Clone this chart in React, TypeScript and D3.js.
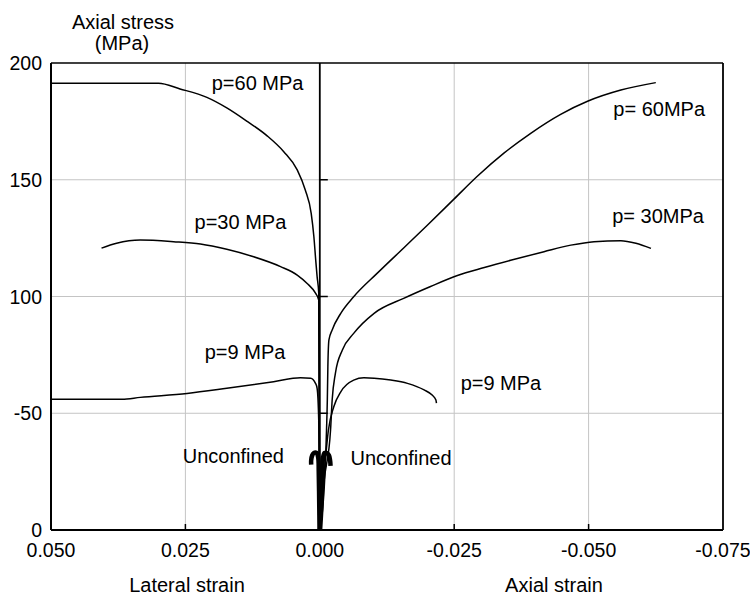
import React from "react";
import * as d3 from "d3";

// ---- data (strain, stress MPa) ----
const xTicks = [0.05, 0.025, 0, -0.025, -0.05, -0.075];
const xTickLabels = ["0.050", "0.025", "0.000", "-0.025", "-0.050", "-0.075"];
const yTicks = [0, 50, 100, 150, 200];
const yTickLabels = ["0", "-50", "100", "150", "200"];

const lateral60: [number, number][] = [
  [0.05, 191.3], [0.03, 191.3], [0.026, 188.9], [0.021, 185.3], [0.0173, 180.8],
  [0.0135, 175.0], [0.0098, 168.8], [0.0067, 162.0], [0.0042, 154.2], [0.0027, 145.6],
  [0.0016, 135.6], [0.0011, 125.6], [0.00076, 115.6], [0.0005, 108.5], [0.0002, 101.4],
  [0.00015, 70], [0.0001, 40], [0.00005, 15], [0, 0],
];
const lateral30: [number, number][] = [
  [0.0406, 120.7], [0.0378, 122.8], [0.0334, 124.2], [0.0272, 123.5], [0.0222, 122.5],
  [0.0173, 120.2], [0.0123, 117.0], [0.0073, 112.8], [0.0042, 109.2], [0.0024, 105.7],
  [0.0008, 101.4], [0.0002, 98.5], [0.0001, 60], [0.00005, 30], [0, 0],
];
const lateral9: [number, number][] = [
  [0.05, 56.0], [0.0368, 56.0], [0.0334, 56.8], [0.0247, 58.5], [0.0173, 60.7],
  [0.0086, 63.5], [0.0036, 65.2], [0.0017, 65.0], [0.0008, 62.8], [0.0005, 60.7],
  [0.0002, 47], [0.0001, 21], [0, 0],
];
const axial60: [number, number][] = [
  [0, 0], [-0.0009, 21.4], [-0.00125, 42.8], [-0.0014, 55.7], [-0.0015, 69.9],
  [-0.0017, 81.4], [-0.0023, 85.7], [-0.0039, 92.8], [-0.0063, 99.9], [-0.0107, 110.0],
  [-0.0156, 120.8], [-0.02, 130.5], [-0.025, 141.8], [-0.0293, 151.5], [-0.0343, 161.5],
  [-0.0393, 170.0], [-0.0448, 178.0], [-0.0498, 183.6], [-0.056, 188.4], [-0.0625, 191.6],
];
const axial30: [number, number][] = [
  [0, 0], [-0.0008, 21], [-0.002, 42.8], [-0.0023, 55.7], [-0.0029, 67.1],
  [-0.0042, 77.1], [-0.0063, 84.2], [-0.0101, 92.8], [-0.0156, 99.2], [-0.0206, 104.3],
  [-0.0256, 109.0], [-0.0306, 112.4], [-0.0355, 115.5], [-0.0417, 119.2], [-0.0467, 122.0],
  [-0.051, 123.5], [-0.056, 123.9], [-0.0588, 122.8], [-0.0616, 120.6],
];
const axial9: [number, number][] = [
  [0, 0], [-0.0007, 21], [-0.0016, 42.8], [-0.0026, 52.8], [-0.0039, 59.2],
  [-0.0063, 64.2], [-0.0082, 65.2], [-0.0101, 65.0], [-0.0132, 64.2], [-0.0163, 62.8],
  [-0.0194, 60.0], [-0.0209, 57.8], [-0.0216, 55.7], [-0.0217, 54.3],
];
const unconfinedLateral: [number, number][] = [
  [0.00005, 0], [0.0001, 10], [0.0002, 25], [0.0003, 31], [0.0006, 33], [0.0011, 33],
  [0.0014, 32], [0.0016, 30], [0.0016, 28],
];
const unconfinedAxial: [number, number][] = [
  [-0.00005, 0], [-0.0003, 10], [-0.0005, 25], [-0.0006, 31], [-0.0009, 33], [-0.0013, 33],
  [-0.0017, 32], [-0.0019, 30], [-0.002, 27.5],
];

const curves = [lateral60, lateral30, lateral9, axial60, axial30, axial9];

const labels: { text: string; x: number; y: number }[] = [
  { text: "p=60 MPa", x: 0.0201, y: 188.5 },
  { text: "p=30 MPa", x: 0.0233, y: 129.1 },
  { text: "p=9 MPa", x: 0.0214, y: 73.3 },
  { text: "p= 60MPa", x: -0.0546, y: 177.1 },
  { text: "p= 30MPa", x: -0.0544, y: 131.3 },
  { text: "p=9 MPa", x: -0.0262, y: 60.0 },
  { text: "Unconfined", x: 0.0255, y: 28.7 },
  { text: "Unconfined", x: -0.0057, y: 27.8 },
];

const W = 750;
const H = 603;
const left = 51, right = 723, top = 63, bottom = 530;

export default function App() {
  const x = d3.scaleLinear().domain([0.05, -0.075]).range([left, right]);
  const y = d3.scaleLinear().domain([0, 200]).range([bottom, top]);
  const line = d3
    .line<[number, number]>()
    .x((d) => x(d[0]))
    .y((d) => y(d[1]))
    .curve(d3.curveMonotoneX);
  const hook = d3
    .line<[number, number]>()
    .x((d) => x(d[0]))
    .y((d) => y(d[1]))
    .curve(d3.curveCatmullRom.alpha(0.5));
  const font = "'Liberation Sans', Arial, Helvetica, sans-serif";

  return (
    <svg width={W} height={H} style={{ position: "absolute", left: 0, top: 0, background: "#fff" }}
      fontFamily={font}>
      <rect x={0} y={0} width={W} height={H} fill="#fff" />
      {/* grid */}
      {xTicks.filter((t) => t !== 0.05 && t !== -0.075 && t !== 0).map((t) => (
        <line key={"gx" + t} x1={x(t)} x2={x(t)} y1={top} y2={bottom} stroke="#c4c4c4" strokeWidth={1} />
      ))}
      {yTicks.filter((t) => t !== 0 && t !== 200).map((t) => (
        <line key={"gy" + t} x1={left} x2={right} y1={y(t)} y2={y(t)} stroke="#c4c4c4" strokeWidth={1} />
      ))}
      {/* frame */}
      <line x1={left} x2={right} y1={top} y2={top} stroke="#000" strokeWidth={1.6} />
      <line x1={right} x2={right} y1={top} y2={bottom} stroke="#000" strokeWidth={1.8} />
      <line x1={left} x2={left} y1={top} y2={bottom} stroke="#000" strokeWidth={2} />
      <line x1={left} x2={right} y1={bottom} y2={bottom} stroke="#000" strokeWidth={2} />
      {/* center axis */}
      <line x1={x(0)} x2={x(0)} y1={top} y2={bottom} stroke="#000" strokeWidth={1.8} />
      {yTicks.filter((t) => t !== 0 && t !== 200).map((t) => (
        <line key={"ct" + t} x1={x(0)} x2={x(0) + 8} y1={y(t)} y2={y(t)} stroke="#000" strokeWidth={1.5} />
      ))}
      {xTicks.filter((t) => t !== 0.05 && t !== -0.075).map((t) => (
        <line key={"bt" + t} x1={x(t)} x2={x(t)} y1={bottom} y2={bottom - 6} stroke="#000" strokeWidth={1.5} />
      ))}
      {/* curves */}
      {curves.map((c, i) => (
        <path key={"c" + i} d={line(c) || ""} fill="none" stroke="#000" strokeWidth={1.5} strokeLinejoin="round" />
      ))}
      <path d={hook(unconfinedLateral) || ""} fill="none" stroke="#000" strokeWidth={4.5} strokeLinejoin="round" />
      <path d={hook(unconfinedAxial) || ""} fill="none" stroke="#000" strokeWidth={4.5} strokeLinejoin="round" />
      {/* tick labels */}
      {xTicks.map((t, i) => (
        <text key={"xl" + t} x={x(t)} y={557} textAnchor="middle" fontSize={19.5} fill="#000">
          {xTickLabels[i]}
        </text>
      ))}
      {yTicks.map((t, i) => (
        <text key={"yl" + t} x={42} y={y(t) + 7} textAnchor="end" fontSize={19.5} fill="#000">
          {yTickLabels[i]}
        </text>
      ))}
      {/* axis titles */}
      <text x={123} y={29} textAnchor="middle" fontSize={20} fill="#000">Axial stress</text>
      <text x={122} y={50} textAnchor="middle" fontSize={20} fill="#000">(MPa)</text>
      <text x={187} y={592} textAnchor="middle" fontSize={20} fill="#000">Lateral strain</text>
      <text x={554} y={592} textAnchor="middle" fontSize={20} fill="#000">Axial strain</text>
      {/* curve labels */}
      {labels.map((l, i) => (
        <text key={"l" + i} x={x(l.x)} y={y(l.y)} fontSize={20} fill="#000">{l.text}</text>
      ))}
    </svg>
  );
}
